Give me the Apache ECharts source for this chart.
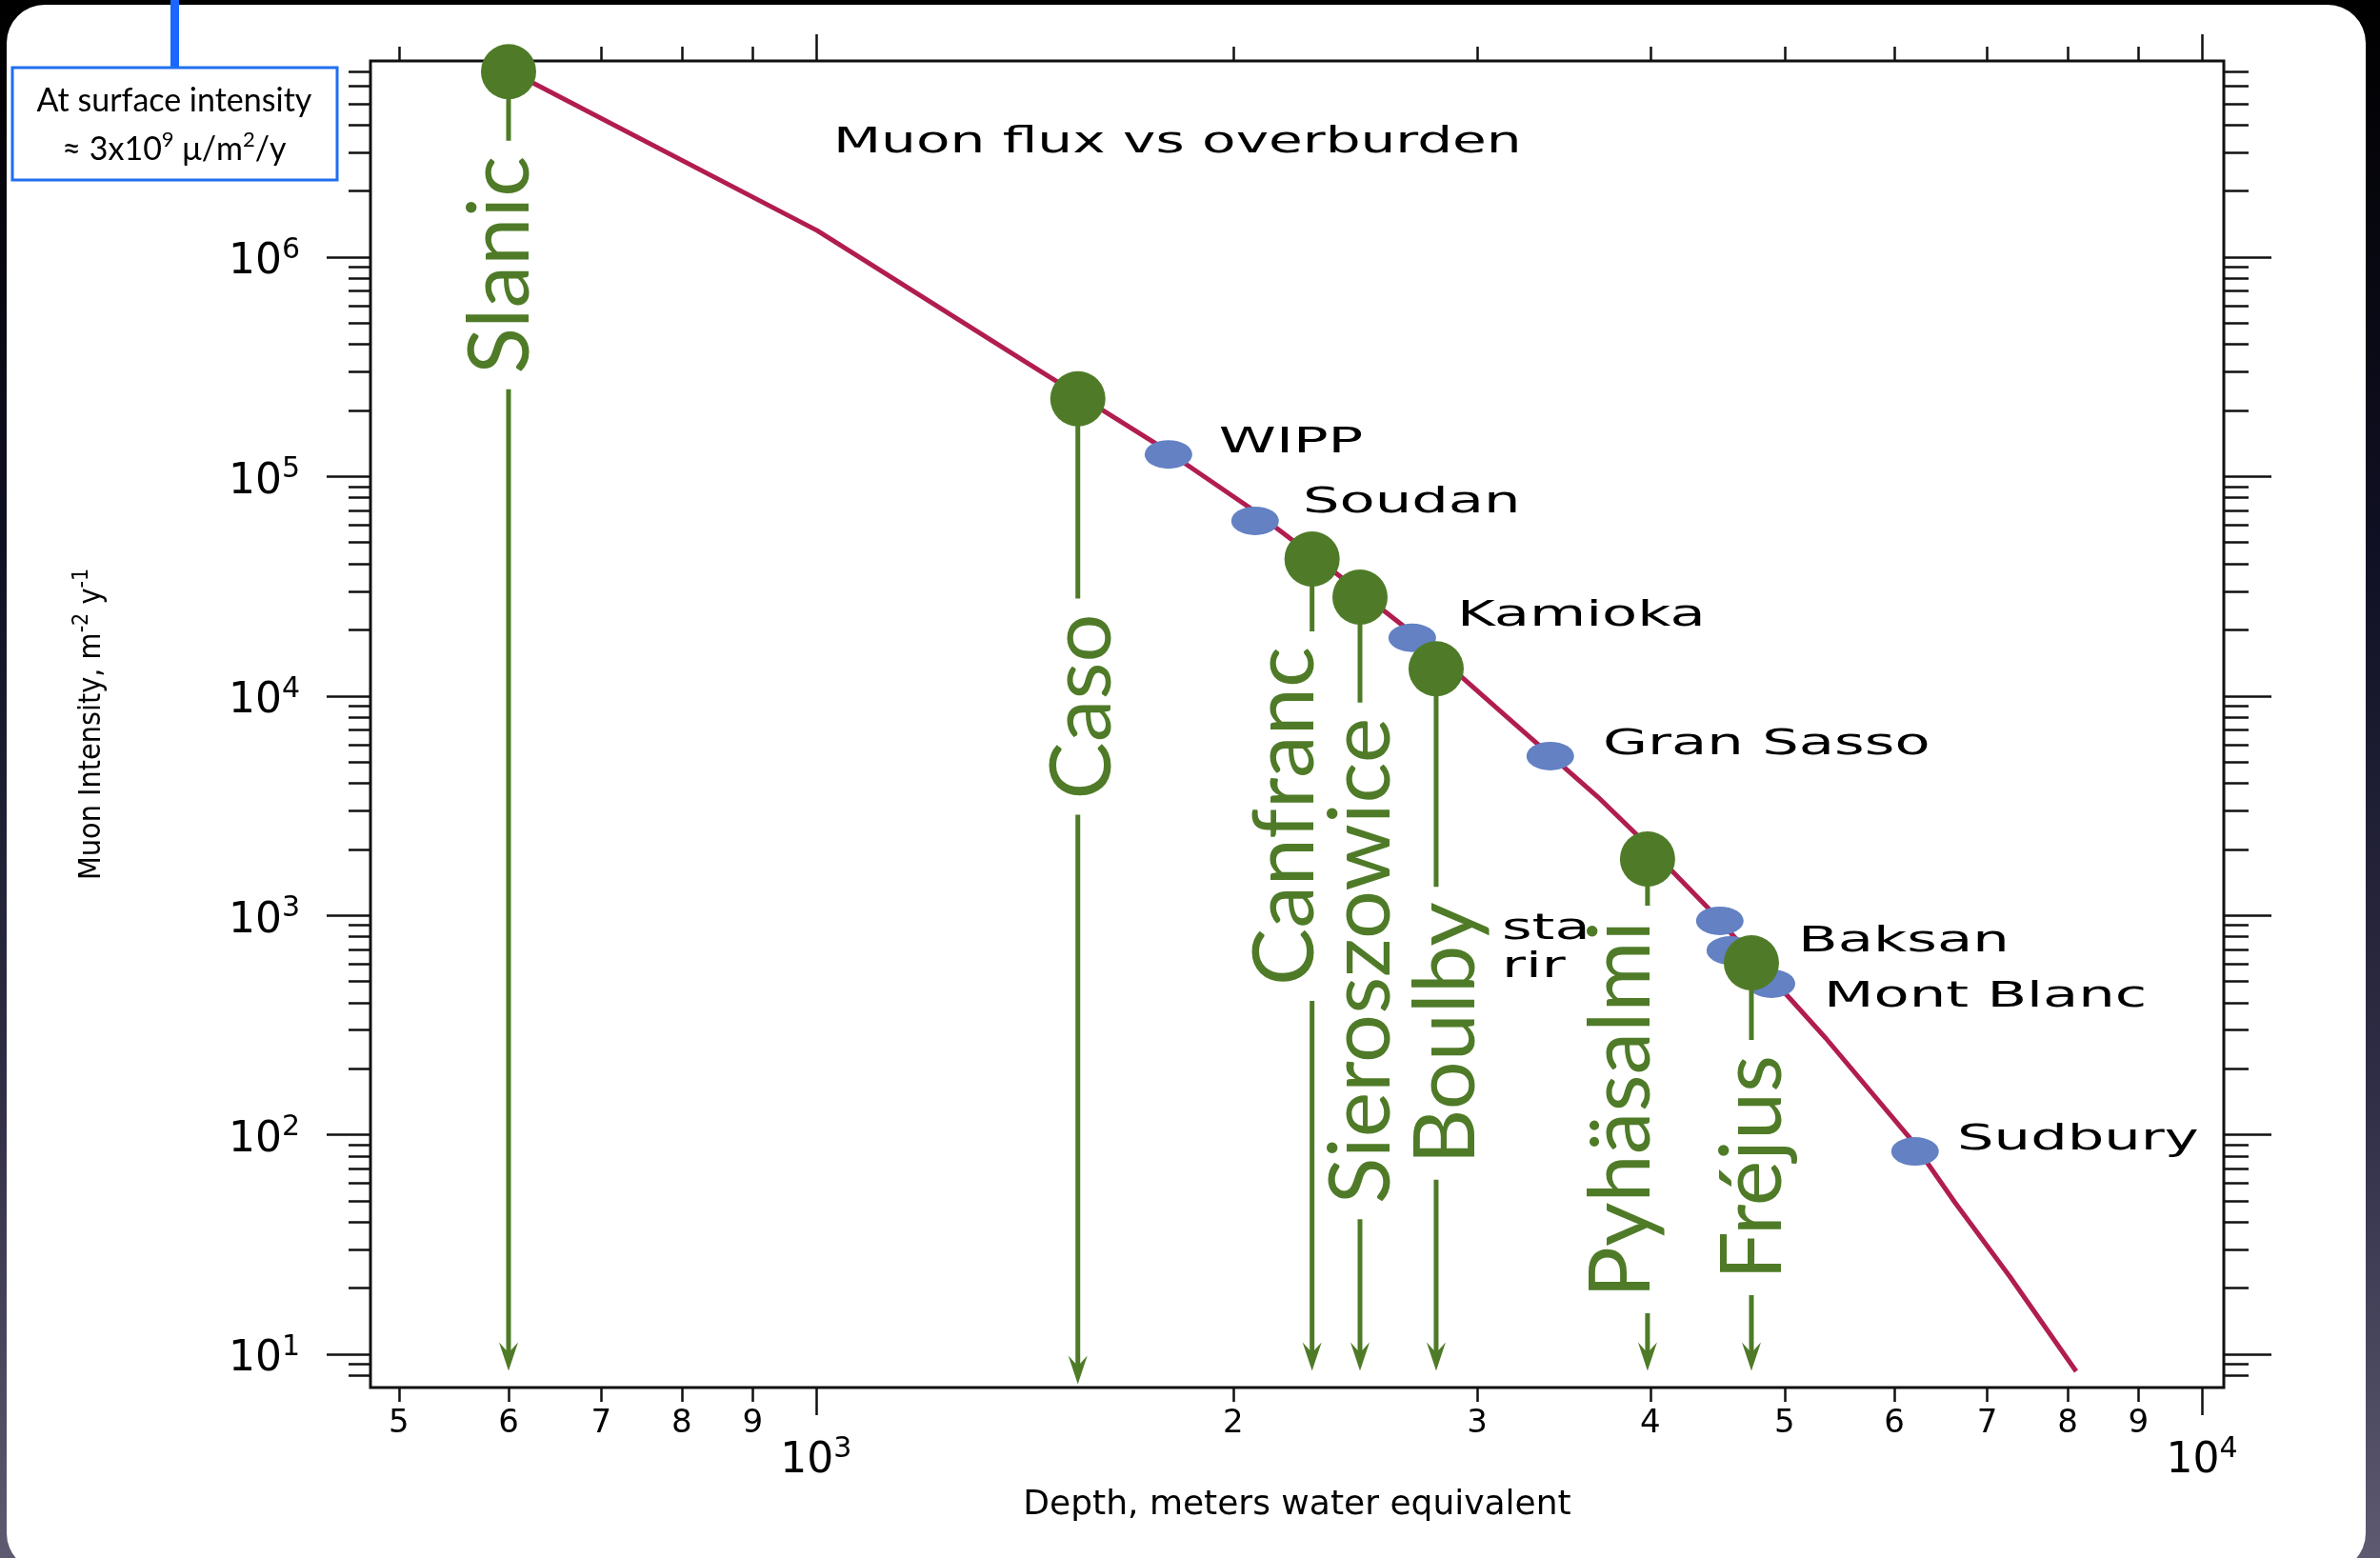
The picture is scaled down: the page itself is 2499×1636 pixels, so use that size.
<!DOCTYPE html>
<html>
<head>
<meta charset="utf-8">
<title>Muon flux vs overburden</title>
<script src="https://cdn.jsdelivr.net/npm/echarts@6.0.0/dist/echarts.min.js"></script>
<style>
  html, body { margin: 0; padding: 0; background: #000; }
  #chart { width: 2499px; height: 1636px; }
</style>
</head>
<body>
<div id="chart"></div>
<script>
// depth in metres water equivalent, intensity in muons / m^2 / y
const curveDepth = [600, 1002, 1416, 1757, 2055, 2373, 2668, 3090, 3667, 3901, 4413, 5352, 6171, 6637, 7264, 8115];
const curveFlux  = [7.1e6, 1.32e6, 3.33e5, 1.42e5, 7.22e4, 3.62e4, 2.03e4, 8950, 3459, 2366, 1064, 276, 94.8, 49, 22.7, 8.36];

// existing labs (blue dots on the curve)
const siteDepth = [1796, 2074, 2693, 3387, 4489, 4568, 4891, 6209];
const siteFlux  = [1.26e5, 6.28e4, 1.84e4, 5320, 944, 692, 488, 84];

// black names next to the dots (left edge / middle of the text)
const tagText  = ['WIPP', 'Soudan', 'Kamioka', 'Gran Sasso', 'Baksan', 'Mont Blanc', 'Sudbury', 'sta', 'rir'];
const tagDepth = [1953, 2245, 2901, 3696, 5113, 5336, 6659, 3125, 3125];
const tagFlux  = [1.497e5, 7.98e4, 2.43e4, 6302, 796, 446, 99.6, 906, 608];

// candidate sites (green): marker, middle of the name, end of the arrow
const labNames     = ['Slanic', 'Caso', 'Canfranc', 'Sieroszowice', 'Boulby', 'Pyhäsalmi', 'Fréjus'];
const labDepth     = [600, 1545, 2280, 2469, 2802, 3981, 4731];
const labFlux      = [7.0e6, 2.26e5, 4.21e4, 2.82e4, 1.33e4, 1807, 608];
const labTextDepth = [591, 1553, 2175, 2469, 2842, 3803, 4731];
const labTextAt    = [9.2e5, 8940, 2831, 620, 290, 130.5, 70.9];
const labArrowTo   = [8.4, 7.3, 8.4, 8.4, 8.4, 8.4, 8.4];

// axes
const xRange = [477, 10371];
const yRange = [7.05, 7.83e6];
const xMajorTicks = [1000, 10000];
const xMinorTicks = [500, 600, 700, 800, 900, 2000, 3000, 4000, 5000, 6000, 7000, 8000, 9000];
const yMajorTicks = [1e1, 1e2, 1e3, 1e4, 1e5, 1e6];
const yDecades = [1, 10, 100, 1000, 1e4, 1e5, 1e6];
const yMultipliers = [2, 3, 4, 5, 6, 7, 8, 9];

const lg = Math.log10;
const GREEN = '#4f7b28';
const FIG_FONT = 'DejaVu Sans';
const NARROW_FONT = "'DejaVu Sans Condensed', 'Liberation Sans', sans-serif";

let yMinorTicks = [];
yDecades.forEach(d => yMultipliers.forEach(m => {
    const v = d * m;
    if (v > yRange[0] && v < yRange[1]) yMinorTicks.push(v);
}));

const gridBox = { left: 389, top: 64, right: 164, bottom: 179 };
const supRich = {
    b: { fontFamily: FIG_FONT, fontSize: 44, lineHeight: 44, color: '#000', padding: [12, 0, 0, 0] },
    s: { fontFamily: FIG_FONT, fontSize: 30, lineHeight: 30, color: '#000', verticalAlign: 'top' }
};
const powLabel = v => '{b|10}{s|' + Math.round(v) + '}';
const digitLabel = v => String(Math.round(Math.pow(10, v - Math.floor(v + 1e-9))));

function axisOf(grid, pos, range, ticks, len, label) {
    return {
        gridIndex: grid, type: 'value', position: pos,
        min: lg(range[0]), max: lg(range[1]),
        axisLine: { show: false }, splitLine: { show: false },
        axisTick: { show: true, customValues: ticks.map(lg), length: len, lineStyle: { color: '#111', width: 2.5 } },
        axisLabel: label ? Object.assign({ customValues: ticks.map(lg) }, label) : { show: false }
    };
}

const xAxes = [
    axisOf(0, 'bottom', xRange, xMajorTicks, 29, { formatter: powLabel, margin: 50, rich: supRich }),
    axisOf(0, 'top', xRange, xMajorTicks, 28),
    axisOf(1, 'bottom', xRange, xMinorTicks, 15, { formatter: digitLabel, margin: 21, fontFamily: FIG_FONT, fontSize: 34, color: '#000' }),
    axisOf(1, 'top', xRange, xMinorTicks, 15)
];
xAxes[0].name = 'Depth, meters water equivalent';
xAxes[0].nameLocation = 'middle';
xAxes[0].nameGap = 106;
xAxes[0].nameTextStyle = { fontFamily: FIG_FONT, fontSize: 36, color: '#000' };

const yAxes = [
    axisOf(0, 'left', yRange, yMajorTicks, 46, { formatter: powLabel, margin: 74, rich: supRich }),
    axisOf(0, 'right', yRange, yMajorTicks, 50),
    axisOf(1, 'left', yRange, yMinorTicks, 23),
    axisOf(1, 'right', yRange, yMinorTicks, 26)
];
yAxes[0].name = '{a|Muon Intensity, m}{s|-2}{a| y}{s|-1}';
yAxes[0].nameLocation = 'middle';
yAxes[0].nameRotate = 90;
yAxes[0].nameGap = 282;
yAxes[0].nameTextStyle = {
    rich: {
        a: { fontFamily: NARROW_FONT, fontSize: 32, lineHeight: 32, color: '#000', padding: [12, 0, 0, 0] },
        s: { fontFamily: NARROW_FONT, fontSize: 23, lineHeight: 23, color: '#000', verticalAlign: 'top' }
    }
};

const option = {
    animation: false,
    graphic: [
        {
            type: 'rect', z: -200, shape: { x: 0, y: 0, width: 2499, height: 1636 },
            style: {
                fill: {
                    type: 'linear', x: 0, y: 0, x2: 0, y2: 1,
                    colorStops: [
                        { offset: 0, color: '#000000' },
                        { offset: 0.35, color: '#101024' },
                        { offset: 0.7, color: '#2f2e46' },
                        { offset: 1, color: '#5d5a71' }
                    ]
                }
            }
        },
        { type: 'rect', z: -100, shape: { x: 7, y: 5, width: 2477, height: 1645, r: 40 }, style: { fill: '#fff' } },
        { type: 'rect', z: 100, shape: { x: 179, y: 0, width: 9, height: 71 }, style: { fill: '#1a66ff' } },
        { type: 'rect', z: 100, shape: { x: 13, y: 71, width: 341, height: 118 }, style: { fill: '#fff', stroke: '#1f6ff0', lineWidth: 3 } },
        {
            type: 'text', z: 101, x: 183, y: 106,
            style: { text: 'At surface intensity', fontFamily: 'Lato', fontSize: 34, fill: '#000', align: 'center', verticalAlign: 'middle' }
        },
        {
            type: 'text', z: 101, x: 183, y: 153,
            style: {
                text: '{a|≈ 3x10}{s|9}{a| μ/m}{s|2}{a|/y}', align: 'center', verticalAlign: 'middle',
                rich: {
                    a: { fontFamily: 'Lato', fontSize: 34, lineHeight: 34, fill: '#000', padding: [8, 0, 0, 0] },
                    s: { fontFamily: 'Lato', fontSize: 22, lineHeight: 22, fill: '#000', verticalAlign: 'top' }
                }
            }
        },
        {
            type: 'text', z: 50, x: 875, y: 150, scaleX: 1.57,
            style: { text: 'Muon flux vs overburden', fontFamily: FIG_FONT, fontSize: 37, fill: '#000', align: 'left', verticalAlign: 'middle' }
        }
    ],
    grid: [
        Object.assign({ show: true, borderColor: '#111', borderWidth: 3, backgroundColor: 'transparent', outerBoundsMode: 'none' }, gridBox),
        Object.assign({ show: false, outerBoundsMode: 'none' }, gridBox)
    ],
    xAxis: xAxes,
    yAxis: yAxes,
    series: [
        {
            name: 'Muon flux', type: 'line', xAxisIndex: 0, yAxisIndex: 0, z: 2,
            data: curveDepth.map((d, i) => [lg(d), lg(curveFlux[i])]),
            symbol: 'none', clip: false,
            lineStyle: { color: '#b11d50', width: 5 }
        },
        {
            name: 'Labs', type: 'scatter', xAxisIndex: 0, yAxisIndex: 0, z: 3, clip: false,
            data: siteDepth.map((d, i) => [lg(d), lg(siteFlux[i])]),
            symbol: 'circle', symbolSize: [50, 30],
            itemStyle: { color: '#6381c3', opacity: 1 }
        },
        {
            name: 'Stems', type: 'custom', xAxisIndex: 0, yAxisIndex: 0, z: 4, clip: false,
            data: labDepth.map((d, i) => [lg(d), lg(labFlux[i]), lg(labArrowTo[i])]),
            encode: { x: 0, y: [1, 2] },
            renderItem: (params, api) => {
                const top = api.coord([api.value(0), api.value(1)]);
                const tip = api.coord([api.value(0), api.value(2)]);
                return {
                    type: 'group',
                    children: [
                        { type: 'line', shape: { x1: top[0], y1: top[1], x2: tip[0], y2: tip[1] - 16 }, style: { stroke: GREEN, lineWidth: 5 } },
                        {
                            type: 'polygon',
                            shape: { points: [[tip[0], tip[1]], [tip[0] - 10, tip[1] - 30], [tip[0], tip[1] - 19], [tip[0] + 10, tip[1] - 30]] },
                            style: { fill: GREEN }
                        }
                    ]
                };
            }
        },
        {
            name: 'Candidate sites', type: 'scatter', xAxisIndex: 0, yAxisIndex: 0, z: 5, clip: false,
            data: labDepth.map((d, i) => [lg(d), lg(labFlux[i])]),
            symbol: 'circle', symbolSize: 58,
            itemStyle: { color: GREEN, opacity: 1 }
        },
        {
            name: 'Lab names', type: 'custom', xAxisIndex: 0, yAxisIndex: 0, z: 6, clip: false,
            data: tagDepth.map((d, i) => [lg(d), lg(tagFlux[i])]),
            encode: { x: 0, y: 1 },
            renderItem: (params, api) => {
                const p = api.coord([api.value(0), api.value(1)]);
                return {
                    type: 'text', x: p[0], y: p[1] + 5, scaleX: 1.6,
                    style: {
                        text: tagText[params.dataIndex], fontFamily: FIG_FONT, fontSize: 38,
                        fill: '#000', align: 'left', verticalAlign: 'middle'
                    }
                };
            }
        },
        {
            name: 'Candidate names', type: 'custom', xAxisIndex: 0, yAxisIndex: 0, z: 7, clip: false,
            data: labTextDepth.map((d, i) => [lg(d), lg(labTextAt[i])]),
            encode: { x: 0, y: 1 },
            renderItem: (params, api) => {
                const p = api.coord([api.value(0), api.value(1)]);
                return {
                    type: 'text', x: p[0] + 2, y: p[1], rotation: Math.PI / 2,
                    style: {
                        text: labNames[params.dataIndex], fontFamily: 'Lato', fontSize: 90, lineHeight: 76,
                        fill: GREEN, align: 'center', verticalAlign: 'middle',
                        backgroundColor: '#fff', padding: [0, 16, 0, 16]
                    }
                };
            }
        }
    ]
};

const chart = echarts.init(document.getElementById('chart'));
chart.setOption(option);
</script>
</body>
</html>
